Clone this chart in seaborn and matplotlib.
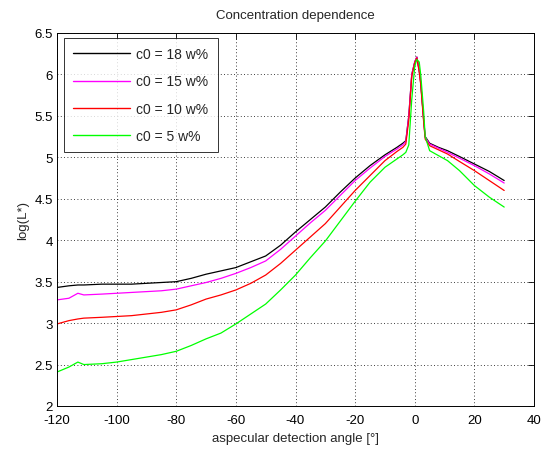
import numpy as np
import pandas as pd
import matplotlib
matplotlib.use("Agg")
import matplotlib.pyplot as plt
import seaborn as sns

angle = [-120, -116, -113, -111, -105, -100, -95, -90, -85, -80, -75, -70, -65, -60,
         -55, -50, -45, -40, -35, -30, -25, -20, -15, -10, -6, -4, -3, -2, -1, 0,
         0.7, 1.5, 2, 3, 3.5, 5, 8, 11, 15, 20, 25, 30]

c18 = [3.43, 3.45, 3.46, 3.46, 3.47, 3.47, 3.47, 3.48, 3.49, 3.50, 3.54, 3.59, 3.63, 3.67,
       3.74, 3.81, 3.94, 4.10, 4.25, 4.40, 4.58, 4.75, 4.90, 5.03, 5.12, 5.17, 5.20, 5.50, 6.00, 6.15,
       6.21, 6.05, 5.90, 5.45, 5.25, 5.17, 5.12, 5.08, 5.01, 4.92, 4.83, 4.72]
c15 = [3.28, 3.30, 3.36, 3.34, 3.35, 3.36, 3.37, 3.38, 3.39, 3.41, 3.45, 3.49, 3.54, 3.60,
       3.67, 3.75, 3.89, 4.05, 4.21, 4.36, 4.54, 4.72, 4.87, 5.01, 5.10, 5.15, 5.19, 5.50, 6.00, 6.15,
       6.21, 6.05, 5.90, 5.45, 5.24, 5.16, 5.11, 5.06, 4.99, 4.90, 4.80, 4.69]
c10 = [2.99, 3.03, 3.05, 3.06, 3.07, 3.08, 3.09, 3.11, 3.13, 3.16, 3.22, 3.29, 3.34, 3.40,
       3.48, 3.58, 3.72, 3.88, 4.04, 4.20, 4.40, 4.60, 4.78, 4.96, 5.07, 5.12, 5.16, 5.45, 5.98, 6.14,
       6.20, 6.03, 5.88, 5.42, 5.22, 5.14, 5.09, 5.04, 4.95, 4.84, 4.72, 4.60]
c5 = [2.41, 2.47, 2.53, 2.50, 2.51, 2.53, 2.56, 2.59, 2.62, 2.66, 2.73, 2.81, 2.88, 2.99,
      3.11, 3.23, 3.40, 3.58, 3.79, 3.99, 4.23, 4.47, 4.70, 4.88, 4.98, 5.03, 5.06, 5.15, 5.70, 6.10,
      6.18, 6.15, 6.00, 5.55, 5.25, 5.08, 5.02, 4.96, 4.84, 4.66, 4.52, 4.40]

labels = ["c0 = 18 w%", "c0 = 15 w%", "c0 = 10 w%", "c0 = 5 w%"]
colors = ["#000000", "#ff00ff", "#ff0000", "#00ff00"]
series = [c18, c15, c10, c5]

rows = []
for lab, vals in zip(labels, series):
    for a, v in zip(angle, vals):
        rows.append({"angle": a, "logL": v, "series": lab})
df = pd.DataFrame(rows)

sns.set_style("white")
plt.rcParams['font.family'] = ['Liberation Sans', 'DejaVu Sans']
plt.rcParams['axes.unicode_minus'] = False

fig = plt.figure(figsize=(5.41, 4.52), dpi=100)
ax = fig.add_axes([57/541, 1 - 407/452, (534 - 57)/541, (407 - 34)/452])

sns.lineplot(data=df, x="angle", y="logL", hue="series", hue_order=labels,
             palette=dict(zip(labels, colors)), estimator=None, sort=False,
             linewidth=0.9, ax=ax)

ax.set_xlim(-120, 40)
ax.set_ylim(2, 6.5)
ax.set_xticks(np.arange(-120, 41, 20))
ax.set_yticks(np.arange(2, 6.51, 0.5))
ax.set_yticklabels(["2", "2.5", "3", "3.5", "4", "4.5", "5", "5.5", "6", "6.5"])
ax.grid(True, color="black", linestyle=(0, (1, 3)), linewidth=0.6)
ax.tick_params(direction="in", length=4, width=0.6, top=True, right=True,
               labelsize=9.5, colors="black", pad=3)
ax.tick_params(axis="x", pad=6)
for s in ax.spines.values():
    s.set_color("black")
    s.set_linewidth(0.7)

ax.set_xlabel("aspecular detection angle [°]", fontsize=9.5, labelpad=4)
ax.set_ylabel("log(L*)", fontsize=9.5, labelpad=4)
ax.set_title("Concentration dependence", fontsize=9.5, pad=11)

leg = ax.legend(loc="upper left", bbox_to_anchor=(0.015, 0.986), fontsize=10,
                frameon=True, fancybox=False, handlelength=4.1, handletextpad=0.45,
                labelspacing=0.95, borderpad=0.65, borderaxespad=0)
leg.get_frame().set_edgecolor("black")
leg.get_frame().set_linewidth(0.7)
for line in leg.get_lines():
    line.set_linewidth(1.0)

fig.savefig("out.png", dpi=100)
